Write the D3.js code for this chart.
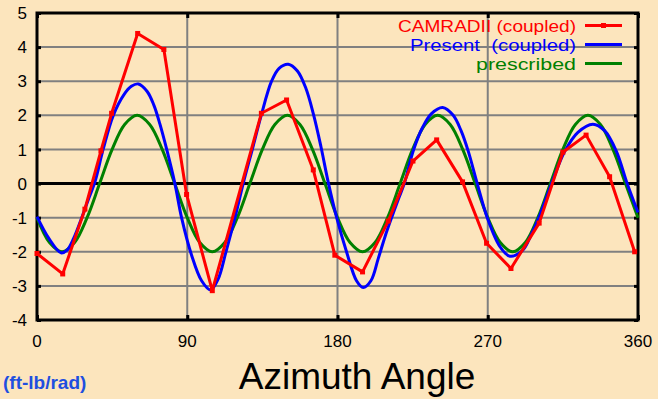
<!DOCTYPE html>
<html>
<head>
<meta charset="utf-8">
<script src="https://cdn.jsdelivr.net/npm/d3@7"></script>
<style>
  body { margin: 0; background: #fce5bd; }
  svg { display: block; font-family: "Liberation Sans", Arial, sans-serif; }
</style>
</head>
<body>
<div id="chart"></div>
<script>
// values: [azimuth deg, moment]
let camradData = [
  [0, -2.05], [15.4, -2.65], [28.7, -0.75], [38.3, 0.96], [44.7, 2.06],
  [60.3, 4.4], [76, 3.93], [89.6, -0.32], [105, -3.14], [134.4, 2.06],
  [149.5, 2.45], [165.5, 0.4], [178.4, -2.1], [195, -2.59], [210.4, -1.1],
  [225.2, 0.66], [239.4, 1.28], [254.9, 0.05], [269.3, -1.75], [283.9, -2.49],
  [300.8, -1.16], [315, 0.92], [328.9, 1.42], [343, 0.2], [358, -2.0]
];
let presentData = [
  [0, -0.97], [7, -1.6], [14.4, -2.03], [18, -1.95], [22, -1.6], [26.8, -1.0],
  [30.5, -0.5], [34.7, 0.05], [39.6, 1.0], [45.7, 2.0], [52, 2.6], [56.5, 2.85],
  [60.7, 2.92], [66, 2.7], [70, 2.3], [73.6, 1.75], [77.7, 1.0], [82.6, 0],
  [86.6, -1.0], [92.6, -2.1], [98.6, -2.85], [104, -3.12], [108.5, -2.8],
  [113.2, -2.0], [118.6, -1.0], [123.5, 0], [129.5, 1.1], [134.3, 2.0],
  [140.5, 3.0], [145, 3.38], [150.5, 3.5], [156, 3.3], [161, 2.8], [165.5, 2.05],
  [170, 1.1], [174.4, 0.05], [179.5, -1.0], [185.4, -2.0], [191.4, -2.85],
  [195.4, -3.05], [200, -2.85], [204.4, -2.2], [208.5, -1.55], [212.4, -1.0],
  [216.5, -0.45], [220, 0], [225.3, 0.95], [231, 1.65], [236.3, 2.05],
  [243, 2.23], [249.3, 2.0], [254, 1.55], [258.3, 0.95], [263.7, 0],
  [269.7, -1.0], [277.3, -1.85], [283.3, -2.13], [291, -1.95], [296, -1.5],
  [301, -0.95], [308.2, 0], [316.2, 0.95], [324, 1.5], [333, 1.74], [340, 1.55],
  [347, 0.95], [353.5, 0], [360, -0.85]
];
let prescribedData = [
  [0, -1.0], [7.5, -1.73], [15, -2.0], [22.5, -1.73], [30, -1.0], [37.5, 0],
  [45, 1.0], [52.5, 1.73], [60, 2.0], [67.5, 1.73], [75, 1.0], [82.5, 0],
  [90, -1.0], [97.5, -1.73], [105, -2.0], [112.5, -1.73], [120, -1.0], [127.5, 0],
  [135, 1.0], [142.5, 1.73], [150, 2.0], [157.5, 1.73], [165, 1.0], [172.5, 0],
  [180, -1.0], [187.5, -1.73], [195, -2.0], [202.5, -1.73], [210, -1.0], [217.5, 0],
  [225, 1.0], [232.5, 1.73], [240, 2.0], [247.5, 1.73], [255, 1.0], [262.5, 0],
  [270, -1.0], [277.5, -1.73], [285, -2.0], [292.5, -1.73], [300, -1.0], [307.5, 0],
  [315, 1.0], [322.5, 1.73], [330, 2.0], [337.5, 1.73], [345, 1.0], [352.5, 0],
  [360, -1.0]
];
let xTicks = [0, 90, 180, 270, 360];
let yTicks = [5, 4, 3, 2, 1, 0, -1, -2, -3, -4];
let legendNames = ["CAMRADII (coupled)", "Present  (coupled)", "prescribed"];
let seriesColors = ["#ff0000", "#0000ff", "#008000"];

function drawChart() {
  var W = 658, H = 399;
  var margin = {top: 13, right: 20, bottom: 79, left: 37},
      width = W - margin.left - margin.right,
      height = H - margin.top - margin.bottom;

  var svg = d3.select("#chart").append("svg")
      .attr("width", W)
      .attr("height", H);
  var g = svg.append("g")
      .attr("transform", "translate(" + margin.left + "," + margin.top + ")");

  var x = d3.scaleLinear().domain([0, 360]).range([0, width]);
  var y = d3.scaleLinear().domain([-4, 5]).range([height, 0]);

  // grid
  g.append("g").selectAll("line.h")
    .data(yTicks.filter(d => d != 5 && d != -4 && d != 0))
    .enter().append("line")
      .attr("x1", 0).attr("x2", width)
      .attr("y1", d => y(d)).attr("y2", d => y(d))
      .attr("stroke", "#808080").attr("stroke-width", 2);
  g.append("g").selectAll("line.v")
    .data(xTicks.filter(d => d != 0 && d != 360))
    .enter().append("line")
      .attr("x1", d => x(d)).attr("x2", d => x(d))
      .attr("y1", 0).attr("y2", height)
      .attr("stroke", "#808080").attr("stroke-width", 2);

  // zero line
  g.append("line")
    .attr("x1", 0).attr("x2", width)
    .attr("y1", y(0)).attr("y2", y(0))
    .attr("stroke", "#000").attr("stroke-width", 3);

  // axes with inside ticks
  var yAxisL = d3.axisRight(y).tickValues(yTicks).tickSize(4).tickFormat("");
  var yAxisR = d3.axisLeft(y).tickValues(yTicks).tickSize(4).tickFormat("");
  var xAxisB = d3.axisTop(x).tickValues(xTicks).tickSize(5).tickFormat("");
  var xAxisT = d3.axisBottom(x).tickValues(xTicks).tickSize(5).tickFormat("");
  g.append("g").call(yAxisL);
  g.append("g").attr("transform", "translate(" + width + ",0)").call(yAxisR);
  g.append("g").attr("transform", "translate(0," + height + ")").call(xAxisB);
  g.append("g").call(xAxisT);
  g.selectAll(".tick line").attr("stroke", "#000").attr("stroke-width", 3);
  g.selectAll(".domain").remove();

  // frame
  g.append("rect")
    .attr("x", 0).attr("y", 0).attr("width", width).attr("height", height)
    .attr("fill", "none").attr("stroke", "#000").attr("stroke-width", 3);

  // tick labels
  g.append("g").selectAll("text")
    .data(yTicks).enter().append("text")
      .attr("x", -10).attr("y", d => y(d))
      .attr("dy", "0.36em")
      .attr("text-anchor", "end")
      .attr("font-size", 17)
      .text(d => d);
  g.append("g").selectAll("text")
    .data(xTicks).enter().append("text")
      .attr("x", d => x(d)).attr("y", height + 27)
      .attr("text-anchor", "middle")
      .attr("font-size", 17)
      .text(d => d);

  // series
  var smooth = d3.line()
    .x(d => x(d[0])).y(d => y(d[1]))
    .curve(d3.curveCatmullRom);
  var straight = d3.line()
    .x(d => x(d[0])).y(d => y(d[1]));

  g.append("path").datum(prescribedData)
    .attr("d", smooth).attr("fill", "none")
    .attr("stroke", seriesColors[2]).attr("stroke-width", 3);
  g.append("path").datum(presentData)
    .attr("d", smooth).attr("fill", "none")
    .attr("stroke", seriesColors[1]).attr("stroke-width", 3);
  g.append("path").datum(camradData)
    .attr("d", straight).attr("fill", "none")
    .attr("stroke", seriesColors[0]).attr("stroke-width", 3)
    .attr("stroke-linejoin", "round");
  g.append("g").selectAll("rect")
    .data(camradData).enter().append("rect")
      .attr("x", d => x(d[0]) - 2.5).attr("y", d => y(d[1]) - 2.5)
      .attr("width", 5).attr("height", 5)
      .attr("fill", seriesColors[0]);

  // legend
  var legWidths = [178, 166, 100];
  var leg = svg.append("g");
  legendNames.forEach(function (name, i) {
    var ly = 25.5 + i * 19;
    leg.append("text")
      .attr("x", 576).attr("y", ly + 6.5)
      .attr("text-anchor", "end")
      .attr("font-size", 16.5)
      .attr("textLength", legWidths[i])
      .attr("lengthAdjust", "spacingAndGlyphs")
      .attr("fill", seriesColors[i])
      .style("white-space", "pre")
      .text(name);
    leg.append("line")
      .attr("x1", 585).attr("x2", 622)
      .attr("y1", ly).attr("y2", ly)
      .attr("stroke", seriesColors[i]).attr("stroke-width", 3);
  });
  leg.append("rect")
    .attr("x", 601).attr("y", 23).attr("width", 5).attr("height", 5)
    .attr("fill", seriesColors[0]);

  // titles
  svg.append("text")
    .attr("x", 357).attr("y", 389)
    .attr("text-anchor", "middle")
    .attr("font-size", 37)
    .text("Azimuth Angle");
  svg.append("text")
    .attr("x", 3).attr("y", 389)
    .attr("font-size", 19)
    .attr("font-weight", "bold")
    .attr("fill", "#1f4fe0")
    .text("(ft-lb/rad)");
}

drawChart();
</script>
</body>
</html>
